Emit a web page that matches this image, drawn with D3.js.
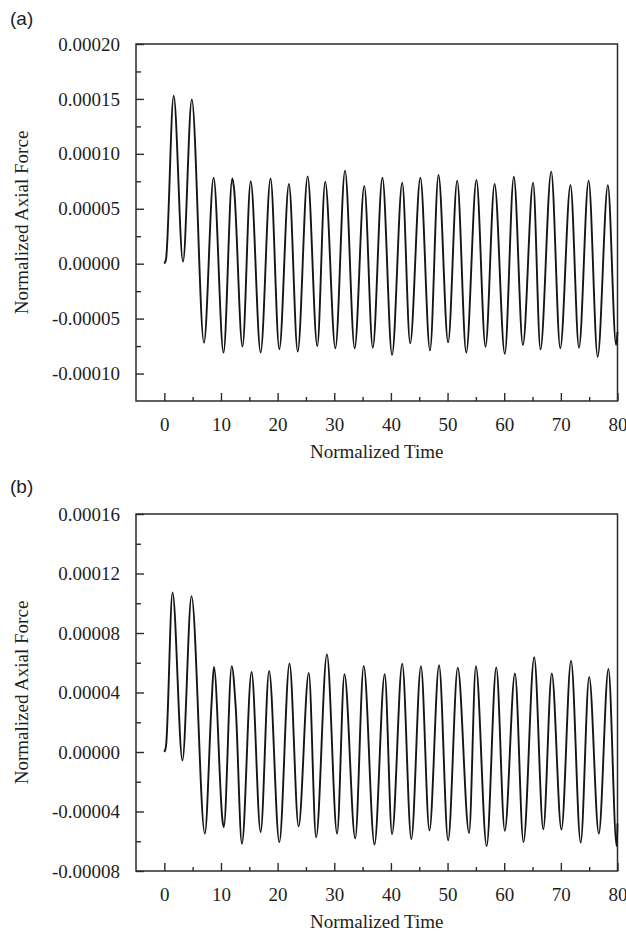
<!DOCTYPE html>
<html>
<head>
<meta charset="utf-8">
<script src="https://cdn.jsdelivr.net/npm/d3@7"></script>
<style>
  body { margin: 0; background: #fff; }
  svg { display: block; }
</style>
</head>
<body>
<div id="chart"></div>
<script>
// Panel (a): normalized time and axial force
const timeA = [0, 0.3, 1.65, 3.3, 4.85, 7.0, 8.7, 10.45, 12.0, 12.3, 13.8, 15.25, 17.0, 18.75, 20.3,
  22.0, 23.55, 25.3, 27.0, 28.4, 30.2, 31.9, 33.6, 35.3, 36.8, 38.5, 40.2, 42.0, 43.4, 45.2,
  46.9, 48.4, 50.1, 51.7, 53.3, 55.1, 56.7, 58.3, 60.1, 61.7, 63.3, 65.1, 66.4, 68.3, 69.9,
  71.7, 73.2, 74.9, 76.5, 78.3, 79.75, 80]
const forceA = [0, 0.000004, 0.000153, 0.0000018, 0.0001495, -0.000072, 0.0000782, -0.000081,
  0.0000775, 0.0000687, -0.0000755, 0.000075, -0.0000808, 0.0000775, -0.0000778,
  0.0000725, -0.00008, 0.0000795, -0.000075, 0.0000747, -0.000077, 0.0000847, -0.000077,
  0.0000708, -0.0000765, 0.0000783, -0.000083, 0.0000738, -0.0000725, 0.0000783,
  -0.000079, 0.0000808, -0.0000716, 0.0000756, -0.000081, 0.0000762, -0.0000756,
  0.0000726, -0.000082, 0.0000792, -0.000074, 0.0000738, -0.000078, 0.0000838,
  -0.000077, 0.0000717, -0.0000765, 0.0000756, -0.0000847, 0.0000714, -0.000074, -0.000062]

// Panel (b)
const timeB = [0, 0.3, 1.45, 3.2, 4.8, 7.15, 8.35, 8.75, 10.3, 10.5, 11.9, 12.6, 13.7, 15.4, 17.0,
  18.5, 20.3, 22.1, 23.7, 25.5, 26.8, 28.7, 30.5, 31.8, 33.7, 35.2, 37.1, 38.9, 40.2, 42.0,
  43.6, 45.3, 46.8, 48.5, 50.1, 51.8, 53.8, 55.0, 56.9, 58.6, 60.1, 61.9, 63.4, 65.3, 66.9,
  68.4, 70.1, 71.8, 73.5, 75.0, 76.7, 78.4, 79.85, 80]
const forceB = [0, 0.000004, 0.0001073, -0.0000056, 0.0001048, -0.0000549, 0.0000337, 0.0000572,
  -0.000047, -0.0000505, 0.0000577, 0.0000303, -0.0000617, 0.0000538, -0.0000538,
  0.0000545, -0.0000606, 0.0000595, -0.00005, 0.0000532, -0.0000574, 0.0000656,
  -0.0000549, 0.0000523, -0.0000581, 0.0000579, -0.0000622, 0.0000523, -0.0000552,
  0.0000593, -0.0000586, 0.0000577, -0.0000527, 0.0000583, -0.0000594, 0.0000566,
  -0.0000545, 0.0000577, -0.0000632, 0.0000568, -0.000053, 0.0000528, -0.0000606,
  0.0000637, -0.0000519, 0.0000528, -0.0000522, 0.0000614, -0.0000609, 0.0000505,
  -0.0000549, 0.0000559, -0.0000632, -0.000048]

// Tick values
const xTicks = [0, 10, 20, 30, 40, 50, 60, 70, 80]
const xMinor = [5, 15, 25, 35, 45, 55, 65, 75]
const yTicksA = [-0.0001, -0.00005, 0, 0.00005, 0.0001, 0.00015, 0.0002]
const yMinorA = [-0.000075, -0.000025, 0.000025, 0.000075, 0.000125, 0.000175]
const yTicksB = [-0.00008, -0.00004, 0, 0.00004, 0.00008, 0.00012, 0.00016]
const yMinorB = [-0.00006, -0.00002, 0.00002, 0.00006, 0.0001, 0.00014]

const serif = "'Liberation Serif', 'Times New Roman', serif"
const sans = "'Liberation Sans', Arial, sans-serif"

const svg = d3.select("#chart")
  .append("svg")
  .attr("width", 626)
  .attr("height", 932)

svg.append("rect").attr("width", 626).attr("height", 932).attr("fill", "#fff")

function drawPanel(opts) {
  const left = 136
  const right = 617.5
  const top = opts.top
  const bottom = opts.bottom

  const x = d3.scaleLinear().domain([-5, 80]).range([left, right])
  const y = d3.scaleLinear().domain(opts.yDomain).range([bottom, top])

  // Minor ticks (no labels)
  svg.append("g")
    .attr("transform", "translate(" + left + ",0)")
    .call(d3.axisLeft(y).tickValues(opts.yMinor).tickSize(-5).tickFormat(""))
    .call((g) => g.select(".domain").remove())
  svg.append("g")
    .attr("transform", "translate(0," + bottom + ")")
    .call(d3.axisBottom(x).tickValues(xMinor).tickSize(-4).tickFormat(""))
    .call((g) => g.select(".domain").remove())

  // Major ticks with labels
  const yAxis = svg.append("g")
    .attr("transform", "translate(" + left + ",0)")
    .call(d3.axisLeft(y).tickValues(opts.yTicks).tickSize(-8).tickPadding(16)
      .tickFormat((d) => d.toFixed(5)))
  yAxis.select(".domain").remove()

  const xAxis = svg.append("g")
    .attr("transform", "translate(0," + bottom + ")")
    .call(d3.axisBottom(x).tickValues(xTicks).tickSize(-8).tickPadding(17))
  xAxis.select(".domain").remove()

  svg.selectAll(".tick line").attr("stroke", "#2b2b2b").attr("stroke-width", 1.4)
  svg.selectAll(".tick text")
    .attr("fill", "#1e1e1e")
    .style("font-family", serif)
    .style("font-size", "19px")

  // Frame
  svg.append("rect")
    .attr("x", left)
    .attr("y", top)
    .attr("width", right - left)
    .attr("height", bottom - top)
    .attr("fill", "none")
    .attr("stroke", "#2b2b2b")
    .attr("stroke-width", 1.5)

  // Signal
  const points = opts.time.map((t, i) => [t, opts.force[i]])
  const line = d3.line()
    .x((d) => x(d[0]))
    .y((d) => y(d[1]))
    .curve(d3.curveMonotoneX)

  svg.append("path")
    .datum(points)
    .attr("d", line)
    .attr("fill", "none")
    .attr("stroke", "#151515")
    .attr("stroke-width", 1.9)
    .attr("stroke-linejoin", "round")

  // Axis titles
  svg.append("text")
    .attr("transform", "rotate(-90)")
    .attr("x", -(top + bottom) / 2)
    .attr("y", 28)
    .attr("text-anchor", "middle")
    .attr("fill", "#1e1e1e")
    .style("font-family", serif)
    .style("font-size", "19px")
    .text("Normalized Axial Force")

  svg.append("text")
    .attr("x", (left + right) / 2)
    .attr("y", bottom + 57)
    .attr("text-anchor", "middle")
    .attr("fill", "#1e1e1e")
    .style("font-family", serif)
    .style("font-size", "19px")
    .text("Normalized Time")

  // Panel letter
  svg.append("text")
    .attr("x", 10)
    .attr("y", opts.labelY)
    .attr("fill", "#1e1e1e")
    .style("font-family", sans)
    .style("font-size", "19px")
    .text(opts.label)
}

drawPanel({
  top: 44, bottom: 401, yDomain: [-0.000125, 0.0002],
  yTicks: yTicksA, yMinor: yMinorA, time: timeA, force: forceA,
  label: "(a)", labelY: 25,
})
drawPanel({
  top: 514, bottom: 871, yDomain: [-0.00008, 0.00016],
  yTicks: yTicksB, yMinor: yMinorB, time: timeB, force: forceB,
  label: "(b)", labelY: 493,
})
</script>
</body>
</html>
